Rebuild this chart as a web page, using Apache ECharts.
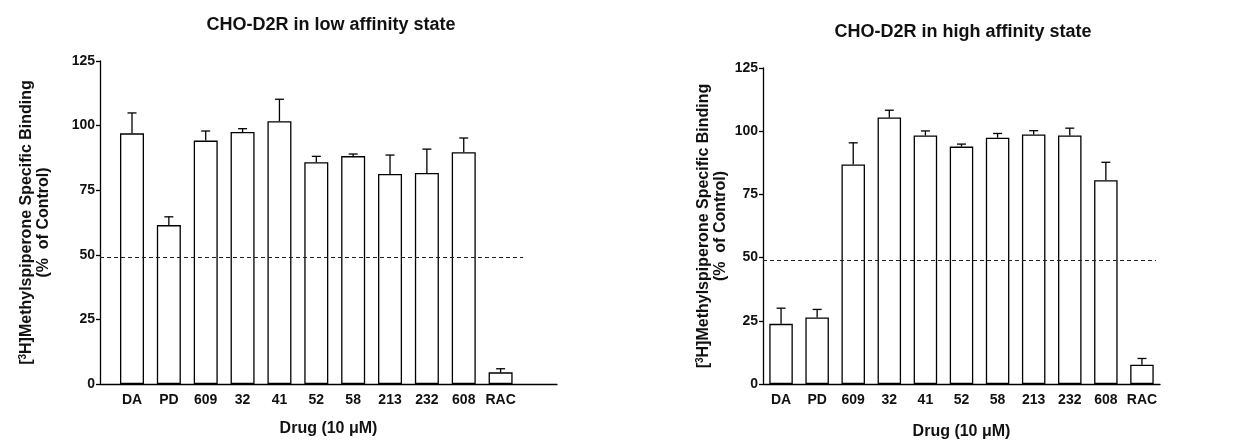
<!DOCTYPE html>
<html>
<head>
<meta charset="utf-8">
<script src="https://cdn.jsdelivr.net/npm/echarts@6/dist/echarts.min.js"></script>
<style>
html,body{margin:0;padding:0;background:#fff;}
#c{width:1234px;height:441px;}
</style>
</head>
<body>
<div id="c"></div>
<script>
const categories = ['DA','PD','609','32','41','52','58','213','232','608','RAC'];
const lowMean = [97.0, 61.5, 94.2, 97.5, 101.7, 85.8, 88.2, 81.3, 81.7, 89.7, 4.5];
const lowErr  = [7.9, 3.2, 3.7, 1.3, 8.5, 2.3, 0.8, 7.3, 9.2, 5.5, 1.4];
const highMean = [23.8, 26.3, 86.8, 105.4, 98.3, 93.9, 97.4, 98.7, 98.3, 80.6, 7.6];
const highErr  = [6.2, 3.2, 8.6, 2.9, 1.8, 1.0, 1.7, 1.5, 2.9, 7.1, 2.5];
const threshold = 49;
const yTicks = [0, 25, 50, 75, 100, 125];
const titles = ['CHO-D2R in low affinity state', 'CHO-D2R in high affinity state'];
const xName = 'Drug (10 \u03bcM)';
const yName = '[{sup|3}H]Methylspiperone Specific Binding\n(%  of Control)';

const FONT = 'Liberation Sans, Arial, sans-serif';
const chart = echarts.init(document.getElementById('c'));

const idx = categories.map((_, i) => i);

function barData(means){ return means.map((v,i)=>[i,v]); }
function errData(means, errs){ return means.map((v,i)=>[i,v,v+errs[i]]); }

function errRender(params, api){
  const x = api.value(0), lo = api.value(1), hi = api.value(2);
  const p0 = api.coord([x, lo]);
  const p1 = api.coord([x, hi]);
  const hw = 4.5;
  return {
    type:'group',
    children:[
      {type:'line', shape:{x1:p0[0], y1:p0[1], x2:p1[0], y2:p1[1]}, style:{stroke:'#000', lineWidth:1.3}},
      {type:'line', shape:{x1:p1[0]-hw, y1:p1[1], x2:p1[0]+hw, y2:p1[1]}, style:{stroke:'#000', lineWidth:1.3}}
    ]
  };
}

const panels = [
  {grid:{left:100, top:61, width:457, height:323}, xmin:-0.868, xmax:11.53, dashEnd:10.61, barW:24, nameGapY:48, nameGapX:37, mean:lowMean, err:lowErr},
  {grid:{left:763, top:68, width:397, height:316}, xmin:-0.5, xmax:10.5, dashEnd:10.39, barW:23.5, nameGapY:34, nameGapX:40, mean:highMean, err:highErr}
];

const option = {
  backgroundColor:'#fff',
  animation:false,
  title:[
    {text:titles[0], left:326, top:11, textAlign:'center', textStyle:{fontFamily:FONT, fontWeight:'bold', fontSize:18, color:'#111'}},
    {text:titles[1], left:958, top:18, textAlign:'center', textStyle:{fontFamily:FONT, fontWeight:'bold', fontSize:18, color:'#111'}}
  ],
  grid: panels.map(p=>Object.assign({containLabel:false, outerBoundsMode:'none'}, p.grid)),
  xAxis: panels.map((p,k)=>({
    type:'value', gridIndex:k, min:p.xmin, max:p.xmax,
    name:xName, nameLocation:'middle', nameGap:p.nameGapX,
    nameTextStyle:{fontFamily:FONT, fontWeight:'bold', fontSize:16, color:'#111'},
    splitLine:{show:false},
    axisLine:{show:true, onZero:false, lineStyle:{color:'#000', width:1.3}},
    axisTick:{show:false},
    axisLabel:{customValues:idx, formatter:v=>categories[Math.round(v)]||'', fontFamily:FONT, fontWeight:'bold', fontSize:14, color:'#111', margin:9, showMinLabel:true, showMaxLabel:true}
  })),
  yAxis: panels.map((p,k)=>({
    type:'value', gridIndex:k, min:0, max:125, interval:25,
    name:yName, nameLocation:'middle', nameGap:p.nameGapY, nameRotate:90,
    nameTextStyle:{fontFamily:FONT, fontWeight:'bold', fontSize:16, color:'#111', lineHeight:17,
      rich:{sup:{fontFamily:FONT, fontWeight:'bold', fontSize:10, color:'#111', verticalAlign:'top', lineHeight:17, padding:[0,0,6,0]}}},
    splitLine:{show:false},
    axisLine:{show:true, onZero:false, lineStyle:{color:'#000', width:1.3}},
    axisTick:{show:true, inside:false, length:4, lineStyle:{color:'#000', width:1.3}},
    axisLabel:{fontFamily:FONT, fontWeight:'bold', fontSize:14, color:'#111', margin:5}
  })),
  series: []
};

panels.forEach((p,k)=>{
  option.series.push({
    type:'bar', xAxisIndex:k, yAxisIndex:k, data:barData(p.mean), barWidth:p.barW,
    itemStyle:{color:'#fff', borderColor:'#000', borderWidth:1.3},
    z:2,
    markLine:{
      silent:true, symbol:['none','none'], label:{show:false},
      lineStyle:{color:'#222', type:[4,3], width:1.1},
      data:[[{coord:[p.xmin, threshold]},{coord:[p.dashEnd, threshold]}]]
    }
  });
  option.series.push({
    type:'custom', xAxisIndex:k, yAxisIndex:k, data:errData(p.mean,p.err),
    renderItem:errRender, z:3, encode:{x:0, y:[1,2]}
  });
});

chart.setOption(option);
</script>
</body>
</html>
